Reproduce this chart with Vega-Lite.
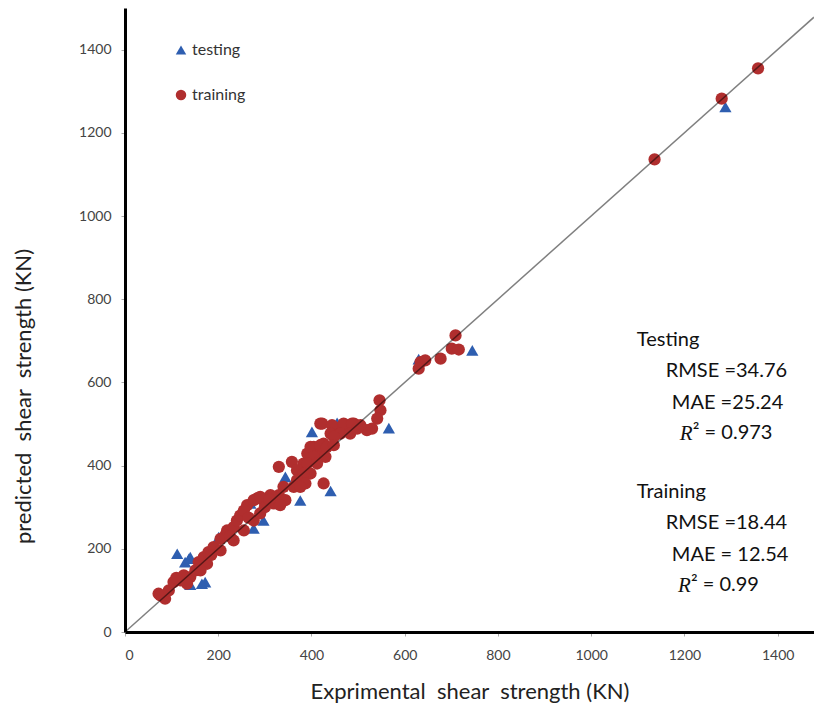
{
  "$schema": "https://vega.github.io/schema/vega-lite/v6.json",
  "autosize": {"type": "none"},
  "padding": {"left": 125, "top": 8, "right": 0, "bottom": 79},
  "width": 689,
  "height": 624,
  "background": "white",
  "config": {
    "view": {"stroke": null},
    "font": "Lato",
    "axis": {
      "labelFont": "Lato", "labelFontSize": 14, "labelColor": "#444", "format": "d",
      "titleFont": "Lato", "titleFontSize": 22, "titleFontWeight": "normal", "titleColor": "#222",
      "domainColor": "#000", "domainWidth": 3, "tickColor": "#aaa", "tickSize": 4, "grid": false
    }
  },
  "datasets": {
    "pts": [
      {"exp": 1288, "pred": 1262, "set": "testing"},
      {"exp": 745, "pred": 677, "set": "testing"},
      {"exp": 630, "pred": 656, "set": "testing"},
      {"exp": 566, "pred": 490, "set": "testing"},
      {"exp": 455, "pred": 503, "set": "testing"},
      {"exp": 401, "pred": 481, "set": "testing"},
      {"exp": 441, "pred": 339, "set": "testing"},
      {"exp": 376, "pred": 316, "set": "testing"},
      {"exp": 344, "pred": 373, "set": "testing"},
      {"exp": 297, "pred": 268, "set": "testing"},
      {"exp": 269, "pred": 309, "set": "testing"},
      {"exp": 276, "pred": 249, "set": "testing"},
      {"exp": 201, "pred": 228, "set": "testing"},
      {"exp": 112, "pred": 188, "set": "testing"},
      {"exp": 137, "pred": 176, "set": "testing"},
      {"exp": 129, "pred": 168, "set": "testing"},
      {"exp": 140, "pred": 180, "set": "testing"},
      {"exp": 172, "pred": 120, "set": "testing"},
      {"exp": 140, "pred": 114, "set": "testing"},
      {"exp": 165, "pred": 116, "set": "testing"},
      {"exp": 1358, "pred": 1355, "set": "training"},
      {"exp": 1280, "pred": 1282, "set": "training"},
      {"exp": 1136, "pred": 1136, "set": "training"},
      {"exp": 709, "pred": 713, "set": "training"},
      {"exp": 701, "pred": 681, "set": "training"},
      {"exp": 716, "pred": 679, "set": "training"},
      {"exp": 677, "pred": 657, "set": "training"},
      {"exp": 634, "pred": 649, "set": "training"},
      {"exp": 644, "pred": 653, "set": "training"},
      {"exp": 630, "pred": 633, "set": "training"},
      {"exp": 546, "pred": 557, "set": "training"},
      {"exp": 548, "pred": 533, "set": "training"},
      {"exp": 541, "pred": 513, "set": "training"},
      {"exp": 530, "pred": 489, "set": "training"},
      {"exp": 519, "pred": 485, "set": "training"},
      {"exp": 419, "pred": 501, "set": "training"},
      {"exp": 448, "pred": 493, "set": "training"},
      {"exp": 469, "pred": 493, "set": "training"},
      {"exp": 491, "pred": 501, "set": "training"},
      {"exp": 505, "pred": 497, "set": "training"},
      {"exp": 423, "pred": 501, "set": "training"},
      {"exp": 444, "pred": 497, "set": "training"},
      {"exp": 469, "pred": 501, "set": "training"},
      {"exp": 487, "pred": 501, "set": "training"},
      {"exp": 441, "pred": 477, "set": "training"},
      {"exp": 462, "pred": 477, "set": "training"},
      {"exp": 483, "pred": 477, "set": "training"},
      {"exp": 498, "pred": 489, "set": "training"},
      {"exp": 448, "pred": 469, "set": "training"},
      {"exp": 426, "pred": 453, "set": "training"},
      {"exp": 405, "pred": 445, "set": "training"},
      {"exp": 391, "pred": 429, "set": "training"},
      {"exp": 419, "pred": 429, "set": "training"},
      {"exp": 383, "pred": 405, "set": "training"},
      {"exp": 398, "pred": 381, "set": "training"},
      {"exp": 426, "pred": 357, "set": "training"},
      {"exp": 398, "pred": 445, "set": "training"},
      {"exp": 419, "pred": 449, "set": "training"},
      {"exp": 433, "pred": 445, "set": "training"},
      {"exp": 448, "pred": 449, "set": "training"},
      {"exp": 405, "pred": 421, "set": "training"},
      {"exp": 430, "pred": 421, "set": "training"},
      {"exp": 391, "pred": 405, "set": "training"},
      {"exp": 412, "pred": 405, "set": "training"},
      {"exp": 330, "pred": 397, "set": "training"},
      {"exp": 358, "pred": 409, "set": "training"},
      {"exp": 369, "pred": 389, "set": "training"},
      {"exp": 383, "pred": 381, "set": "training"},
      {"exp": 369, "pred": 365, "set": "training"},
      {"exp": 387, "pred": 357, "set": "training"},
      {"exp": 362, "pred": 349, "set": "training"},
      {"exp": 376, "pred": 349, "set": "training"},
      {"exp": 340, "pred": 349, "set": "training"},
      {"exp": 330, "pred": 329, "set": "training"},
      {"exp": 312, "pred": 329, "set": "training"},
      {"exp": 297, "pred": 317, "set": "training"},
      {"exp": 283, "pred": 321, "set": "training"},
      {"exp": 262, "pred": 305, "set": "training"},
      {"exp": 319, "pred": 309, "set": "training"},
      {"exp": 344, "pred": 317, "set": "training"},
      {"exp": 333, "pred": 305, "set": "training"},
      {"exp": 72, "pred": 92, "set": "training"},
      {"exp": 86, "pred": 80, "set": "training"},
      {"exp": 76, "pred": 88, "set": "training"},
      {"exp": 94, "pred": 100, "set": "training"},
      {"exp": 104, "pred": 120, "set": "training"},
      {"exp": 119, "pred": 124, "set": "training"},
      {"exp": 126, "pred": 136, "set": "training"},
      {"exp": 140, "pred": 132, "set": "training"},
      {"exp": 151, "pred": 148, "set": "training"},
      {"exp": 158, "pred": 168, "set": "training"},
      {"exp": 169, "pred": 180, "set": "training"},
      {"exp": 179, "pred": 192, "set": "training"},
      {"exp": 190, "pred": 204, "set": "training"},
      {"exp": 205, "pred": 224, "set": "training"},
      {"exp": 215, "pred": 232, "set": "training"},
      {"exp": 219, "pred": 244, "set": "training"},
      {"exp": 233, "pred": 252, "set": "training"},
      {"exp": 240, "pred": 268, "set": "training"},
      {"exp": 247, "pred": 280, "set": "training"},
      {"exp": 255, "pred": 292, "set": "training"},
      {"exp": 276, "pred": 317, "set": "training"},
      {"exp": 290, "pred": 325, "set": "training"},
      {"exp": 176, "pred": 164, "set": "training"},
      {"exp": 205, "pred": 196, "set": "training"},
      {"exp": 233, "pred": 220, "set": "training"},
      {"exp": 255, "pred": 244, "set": "training"},
      {"exp": 276, "pred": 268, "set": "training"},
      {"exp": 290, "pred": 285, "set": "training"},
      {"exp": 162, "pred": 148, "set": "training"},
      {"exp": 133, "pred": 116, "set": "training"},
      {"exp": 110, "pred": 130, "set": "training"},
      {"exp": 185, "pred": 185, "set": "training"},
      {"exp": 225, "pred": 230, "set": "training"},
      {"exp": 265, "pred": 275, "set": "training"},
      {"exp": 300, "pred": 300, "set": "training"},
      {"exp": 310, "pred": 318, "set": "training"}
    ],
    "diag": [
      {"exp": 0, "pred": 0},
      {"exp": 1478, "pred": 1478}
    ],
    "notes": [
      {"tx": 1098, "ty": 702, "label": "Testing"},
      {"tx": 1160, "ty": 627, "label": "RMSE =34.76"},
      {"tx": 1173, "ty": 550, "label": "MAE =25.24"},
      {"tx": 1218, "ty": 478, "label": "² = 0.973"},
      {"tx": 1098, "ty": 337, "label": "Training"},
      {"tx": 1160, "ty": 262, "label": "RMSE =18.44"},
      {"tx": 1173, "ty": 185, "label": "MAE = 12.54"},
      {"tx": 1214, "ty": 113, "label": "² = 0.99"}
    ],
    "rs": [
      {"tx": 1190, "ty": 476, "label": "R"},
      {"tx": 1186, "ty": 111, "label": "R"}
    ]
  },
  "layer": [
    {
      "data": {"name": "pts"},
      "mark": {"type": "point", "filled": true, "opacity": 1, "size": 150},
      "encoding": {
        "x": {"field": "exp", "type": "quantitative",
              "scale": {"domain": [0, 1478], "nice": false},
              "axis": {"values": [0, 200, 400, 600, 800, 1000, 1200, 1400], "title": "Exprimental\u00a0 shear\u00a0 strength (KN)", "labelPadding": 12, "titlePadding": 19}},
        "y": {"field": "pred", "type": "quantitative",
              "scale": {"domain": [0, 1500], "nice": false},
              "axis": {"values": [0, 200, 400, 600, 800, 1000, 1200, 1400], "title": "predicted\u00a0 shear\u00a0 strength (KN)", "labelPadding": 10, "titlePadding": 43, "titleY": 388}},
        "color": {"field": "set", "type": "nominal",
                  "scale": {"domain": ["testing", "training"], "range": ["#2E5EB0", "#B02E2E"]},
                  "legend": {"orient": "none", "legendX": 48, "legendY": 34, "title": null, "labelFontSize": 16, "labelFont": "Lato", "labelColor": "#333", "symbolSize": 110, "rowPadding": 29, "labelOffset": 3}},
        "shape": {"field": "set", "type": "nominal",
                  "scale": {"domain": ["testing", "training"], "range": ["triangle-up", "circle"]}},
        "order": {"field": "set", "type": "nominal", "sort": "ascending"}
      }
    },
    {
      "data": {"name": "diag"},
      "mark": {"type": "line", "color": "#000", "strokeOpacity": 0.5, "strokeWidth": 1.5},
      "encoding": {
        "x": {"field": "exp", "type": "quantitative"},
        "y": {"field": "pred", "type": "quantitative"}
      }
    },
    {
      "mark": {"type": "rule", "color": "#000", "strokeWidth": 3},
      "encoding": {"y": {"datum": 1500}}
    },
    {
      "data": {"name": "notes"},
      "mark": {"type": "text", "align": "left", "baseline": "middle", "fontSize": 20, "font": "Lato", "color": "#111"},
      "encoding": {
        "x": {"field": "tx", "type": "quantitative"},
        "y": {"field": "ty", "type": "quantitative"},
        "text": {"field": "label"}
      }
    },
    {
      "data": {"name": "rs"},
      "mark": {"type": "text", "align": "left", "baseline": "middle", "fontSize": 21, "font": "Liberation Serif", "fontStyle": "italic", "color": "#111"},
      "encoding": {
        "x": {"field": "tx", "type": "quantitative"},
        "y": {"field": "ty", "type": "quantitative"},
        "text": {"field": "label"}
      }
    }
  ]
}
